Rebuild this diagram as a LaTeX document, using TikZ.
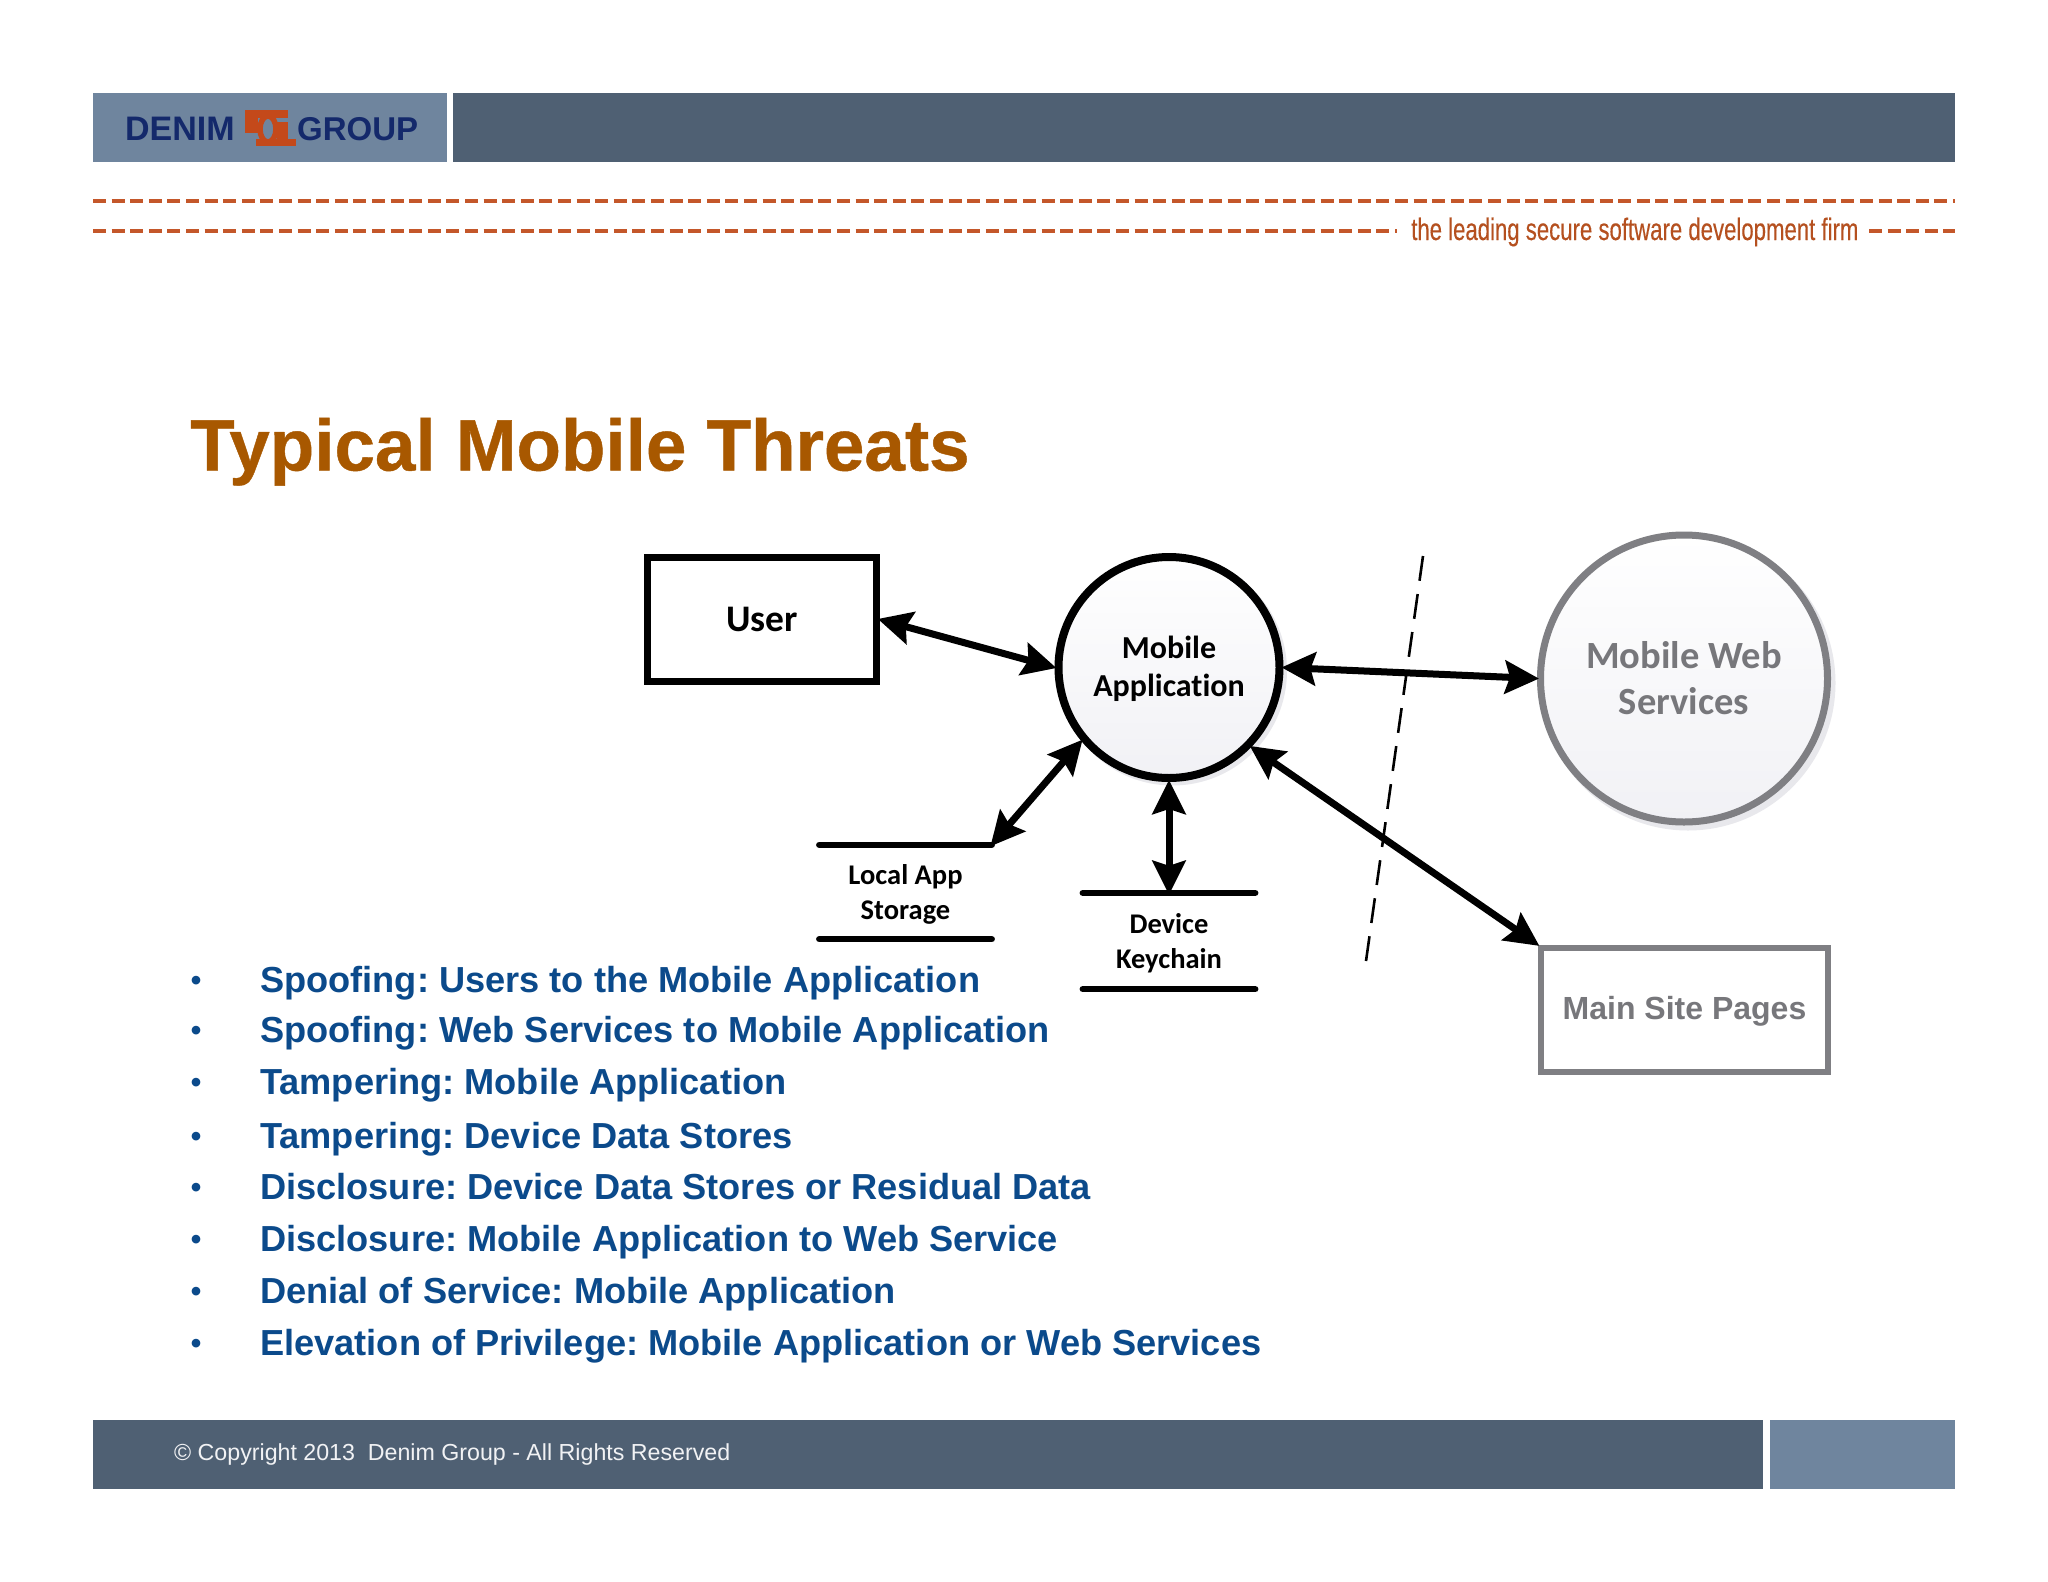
\documentclass[tikz,border=0pt]{standalone}
\usepackage{fontspec}
\setmainfont{Liberation Sans}
\newfontfamily\calib[Ligatures=NoCommon]{Carlito}
\newfontfamily\narrowf[FakeStretch=0.715,FakeBold=0.25]{Liberation Sans}
\newfontfamily\titlef[FakeBold=0.6]{Liberation Sans Bold}
\usetikzlibrary{arrows.meta}
\definecolor{barDark}{HTML}{4F6073}
\definecolor{barLight}{HTML}{6F859E}
\definecolor{dashOr}{HTML}{C4572A}
\definecolor{tagOr}{HTML}{B5501F}
\definecolor{titleOr}{HTML}{A85800}
\definecolor{bulletBlue}{HTML}{0B4A8B}
\definecolor{navy}{HTML}{14296B}
\definecolor{logoOr}{HTML}{C4491A}
\definecolor{grayEdge}{HTML}{7F7F83}
\definecolor{grayText}{HTML}{77777B}
\definecolor{shade}{HTML}{F1F1F5}
\definecolor{softshadow}{HTML}{E8E8EC}
\tikzset{
  x=1pt,y=-1pt,
  dashline/.style={draw=dashOr,line width=3.05pt,dash pattern=on 13pt off 5.6pt},
  bltext/.style={anchor=base west,inner sep=0pt,text=bulletBlue,font=\frenchspacing\fontsize{36.2}{36.2}\selectfont\bfseries},
  bldot/.style={anchor=base,inner sep=0pt,text=bulletBlue,font=\fontsize{30}{30}\selectfont\bfseries},
  dfd/.style={line width=7pt,draw=black,shorten <=-2pt,shorten >=-2pt,{Stealth[length=34pt,width=33pt,inset=5pt]}-{Stealth[length=34pt,width=33pt,inset=5pt]}},
  darkbox/.style={draw=black,line width=6.5pt,minimum width=229pt,minimum height=124pt,inner sep=0pt,font=\calib\fontsize{37.5}{37.5}\selectfont\bfseries},
  darkcirc/.style={circle,draw=black,line width=8pt,minimum size=221pt,inner sep=0pt,top color=white,bottom color=shade,align=center,font=\calib\fontsize{32}{38}\selectfont\bfseries},
  graycirc/.style={circle,draw=grayEdge,line width=7pt,minimum size=287pt,inner sep=0pt,top color=white,bottom color=shade,align=center,text=grayText,font=\calib\fontsize{38.5}{46}\selectfont\bfseries},
  graybox/.style={draw=grayEdge,line width=6.5pt,minimum width=287pt,minimum height=124pt,inner sep=0pt,text=grayText,font=\fontsize{32}{32}\selectfont\bfseries},
  storebox/.style={minimum width=172pt,inner sep=0pt,align=center,font=\calib\fontsize{28.5}{35}\selectfont\bfseries},
  storeline/.style={line width=6.5pt,line cap=round,draw=black},
}
\begin{document}
\begin{tikzpicture}
\useasboundingbox (0,0) rectangle (2048,1582);
\fill[white] (0,0) rectangle (2048,1582);
% header
\fill[barLight] (93,93) rectangle (447,162);
\fill[barDark] (453,93) rectangle (1955,162);
\node[anchor=base west,inner sep=0pt,text=navy,font=\fontsize{34}{34}\selectfont\bfseries] (denim) at (125,140) {DENIM};
\node[anchor=base west,inner sep=0pt,text=navy,font=\fontsize{33}{33}\selectfont\bfseries] (groupn) at (297,140) {GROUP};
\fill[logoOr] (245,110) rectangle (288,118);
\fill[logoOr] (245,110) rectangle (258,133);
\fill[logoOr] (277,122) rectangle (288,142);
\fill[logoOr] (256,139) rectangle (296,145.5);
\draw[logoOr,line width=5.5pt] (268,129) ellipse (8 and 13);
% dashes
\draw[dashline] (93,201) -- (1955,201);
\draw[dashline] (93,231) -- (1397,231);
\draw[dashline] (1869,231) -- (1955,231);
\node[anchor=base west,inner sep=0pt,text=tagOr,font=\narrowf\fontsize{31}{31}\selectfont] (tag) at (1411,240) {the leading secure software development firm};
% title
\node[anchor=base west,inner sep=0pt,text=titleOr,font=\titlef\fontsize{72.8}{72.8}\selectfont] (title) at (190,470.5) {Typical Mobile Threats};
% shadows
\fill[softshadow] (1172.5,671) circle (114.5);
\fill[softshadow] (1688,683) circle (147.5);
% nodes
\node[darkbox] (user) at (762,619.5) {User};
\node[darkcirc] (mobile) at (1169,667.5) {\rule{0pt}{26pt}Mobile\\Application};
\node[graycirc] (web) at (1684,678.5) {Mobile Web\\Services};
\node[graybox] (main) at (1684.5,1010) {\rule{0pt}{26pt}Main Site Pages};
\node[storebox,minimum height=94pt] (local) at (905.5,892) {\rule{0pt}{25pt}Local App\\Storage};
\node[storebox,minimum height=96pt] (device) at (1169,941) {\rule{0pt}{25pt}Device\\Keychain};
\draw[storeline] (local.north west) -- (local.north east);
\draw[storeline] (local.south west) -- (local.south east);
\draw[storeline] (device.north west) -- (device.north east);
\draw[storeline] (device.south west) -- (device.south east);
% boundary
\coordinate (tbTop) at (1423,556);
\coordinate (tbBot) at (1366,961);
\draw[line width=2.6pt,dash pattern=on 25pt off 13.4pt] (tbTop) -- (tbBot);
% connectors
\draw[dfd] (user.east) -- (mobile.west);
\draw[dfd] (mobile.east) -- (web.west);
\draw[dfd] (mobile.-44) -- (main.north west);
\draw[dfd] (mobile.220) -- (local.north east);
\draw[dfd] (mobile.south) -- (device.north);
% bullets
\node[bldot] (d1) at (196,990) {•};
\node[bltext] (b1) at (260,992) {Spoofing: Users to the Mobile Application};
\node[bldot] (d2) at (196,1040) {•};
\node[bltext] (b2) at (260,1042) {Spoofing: Web Services to Mobile Application};
\node[bldot] (d3) at (196,1092) {•};
\node[bltext] (b3) at (260,1094) {Tampering: Mobile Application};
\node[bldot] (d4) at (196,1146) {•};
\node[bltext] (b4) at (260,1148) {Tampering: Device Data Stores};
\node[bldot] (d5) at (196,1197) {•};
\node[bltext] (b5) at (260,1199) {Disclosure: Device Data Stores or Residual Data};
\node[bldot] (d6) at (196,1249) {•};
\node[bltext] (b6) at (260,1251) {Disclosure: Mobile Application to Web Service};
\node[bldot] (d7) at (196,1301) {•};
\node[bltext] (b7) at (260,1303) {Denial of Service: Mobile Application};
\node[bldot] (d8) at (196,1353) {•};
\node[bltext] (b8) at (260,1355) {Elevation of Privilege: Mobile Application or Web Services};
% footer
\fill[barDark] (93,1420) rectangle (1763,1489);
\fill[barLight] (1770,1420) rectangle (1955,1489);
\node[anchor=base west,inner sep=0pt,text=white!92!barDark,font=\fontsize{23.2}{23.2}\selectfont] (copy) at (174,1460) {© Copyright 2013\ \ Denim Group - All Rights Reserved};
\end{tikzpicture}
\end{document}
